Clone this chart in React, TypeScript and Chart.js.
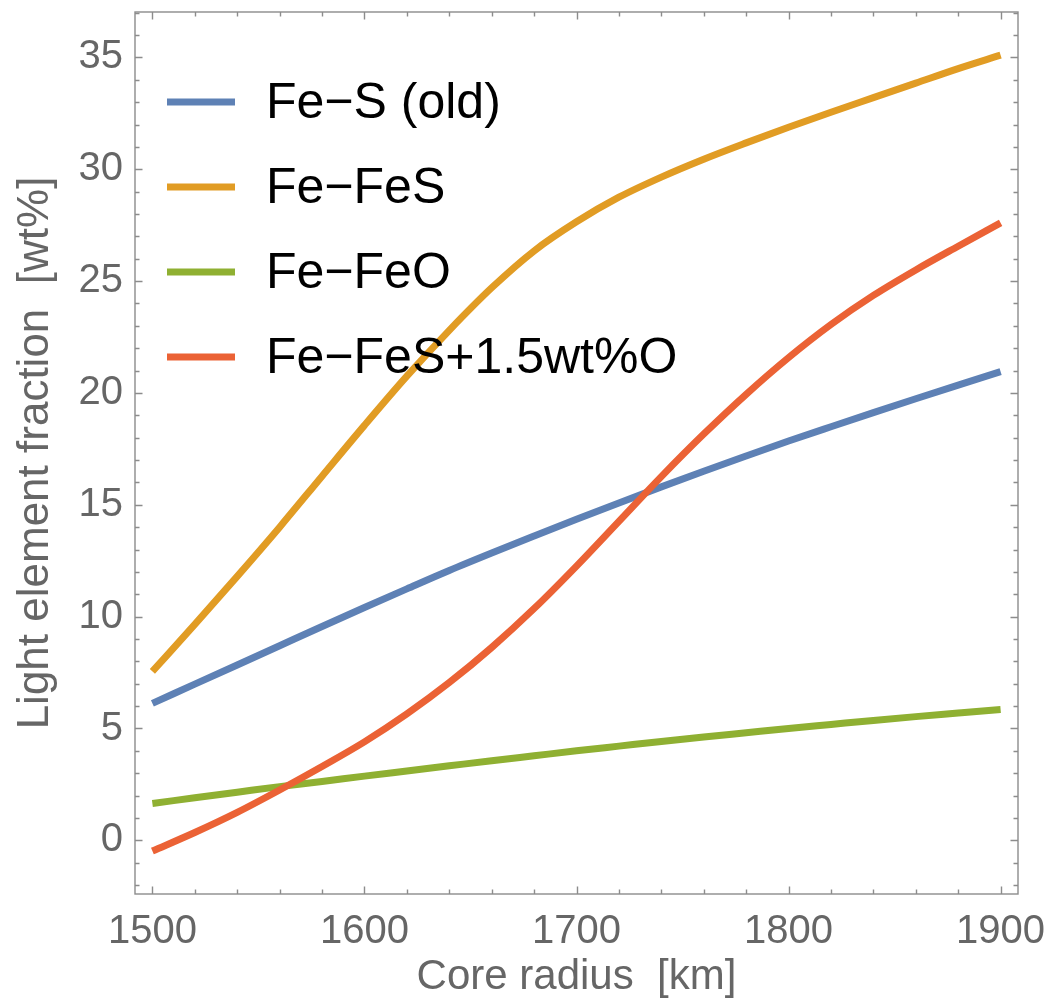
import React, { useEffect, useRef } from "react";
import { Chart, registerables } from "chart.js";

Chart.register(...registerables);

// ---------- data ----------
const radiusKm = [1500, 1520, 1540, 1560, 1580, 1600, 1620, 1640, 1660, 1680, 1700, 1720, 1740, 1760, 1780, 1800, 1820, 1840, 1860, 1880, 1900];
const feSOld = [6.12, 6.98, 7.84, 8.7, 9.56, 10.41, 11.24, 12.06, 12.84, 13.6, 14.35, 15.08, 15.8, 16.5, 17.18, 17.85, 18.49, 19.12, 19.74, 20.35, 20.95];
const feFeS = [7.55, 9.65, 11.8, 14.0, 16.28, 18.55, 20.75, 22.8, 24.7, 26.35, 27.65, 28.75, 29.65, 30.45, 31.18, 31.88, 32.55, 33.2, 33.85, 34.5, 35.1];
const feFeO = [1.65, 1.9, 2.15, 2.4, 2.63, 2.87, 3.1, 3.33, 3.56, 3.78, 4.0, 4.21, 4.42, 4.62, 4.81, 5.0, 5.18, 5.36, 5.53, 5.69, 5.85];
const feFeSO = [-0.48, 0.35, 1.25, 2.25, 3.3, 4.4, 5.65, 7.05, 8.62, 10.36, 12.26, 14.26, 16.26, 18.16, 19.94, 21.58, 23.06, 24.36, 25.5, 26.56, 27.6];

const seriesLabels = ["Fe\u2212S (old)", "Fe\u2212FeS", "Fe\u2212FeO", "Fe\u2212FeS+1.5wt%O"];
const seriesValues = [feSOld, feFeS, feFeO, feFeSO];
const seriesColors = ["#5E81B5", "#E19C24", "#8FB032", "#EB6235"];

const xTickValues = [1500, 1600, 1700, 1800, 1900];
const yTickValues = [0, 5, 10, 15, 20, 25, 30, 35];

const xTitle = "Core radius  [km]";
const yTitle = "Light element fraction  [wt%]";

// ---------- style ----------
const FONT = "'Liberation Sans', Arial, Helvetica, sans-serif";
const GRAY_TEXT = "#666666";
const FRAME = "#8c8c8c";
const X_MINOR = 20;
const X_MAJOR = 100;
const Y_MINOR = 1;
const Y_MAJOR = 5;

const frameTicksPlugin = {
  id: "frameTicks",
  afterDatasetsDraw(chart: any) {
    const { ctx, chartArea, scales } = chart;
    const { left, right, top, bottom } = chartArea;
    const x = scales.x;
    const y = scales.y;
    ctx.save();
    ctx.strokeStyle = FRAME;
    ctx.lineWidth = 1.4;
    ctx.beginPath();
    for (let k = Math.ceil(x.min / X_MINOR); k * X_MINOR <= x.max; k++) {
      const v = k * X_MINOR;
      const px = Math.round(x.getPixelForValue(v)) + 0.5;
      const len = v % X_MAJOR === 0 ? 7.5 : 4.5;
      ctx.moveTo(px, bottom);
      ctx.lineTo(px, bottom - len);
      ctx.moveTo(px, top);
      ctx.lineTo(px, top + len);
    }
    for (let k = Math.ceil(y.min / Y_MINOR); k * Y_MINOR <= y.max; k++) {
      const v = k * Y_MINOR;
      const py = Math.round(y.getPixelForValue(v)) + 0.5;
      const len = v % Y_MAJOR === 0 ? 7.5 : 4.5;
      ctx.moveTo(left, py);
      ctx.lineTo(left + len, py);
      ctx.moveTo(right, py);
      ctx.lineTo(right - len, py);
    }
    ctx.stroke();
    ctx.strokeRect(left, top, right - left, bottom - top);
    ctx.restore();
  },
};

const legendPlugin = {
  id: "mmaLegend",
  afterDraw(chart: any) {
    const { ctx, chartArea } = chart;
    const x0 = chartArea.left + 32;
    const lineLen = 68;
    const textX = chartArea.left + 131;
    const firstLineY = chartArea.top + 90;
    const rowGap = 85;
    ctx.save();
    chart.data.datasets.forEach((ds: any, i: number) => {
      const yLine = firstLineY + i * rowGap;
      ctx.strokeStyle = ds.borderColor;
      ctx.lineWidth = 7;
      ctx.lineCap = "butt";
      ctx.beginPath();
      ctx.moveTo(x0, yLine);
      ctx.lineTo(x0 + lineLen, yLine);
      ctx.stroke();
      ctx.fillStyle = "#000000";
      ctx.font = `50px ${FONT}`;
      ctx.textAlign = "left";
      ctx.textBaseline = "alphabetic";
      ctx.fillText(ds.label, textX, yLine + 16);
    });
    ctx.restore();
  },
};

function zeroPadding(scale: any) {
  scale.paddingLeft = 0;
  scale.paddingRight = 0;
  scale.paddingTop = 0;
  scale.paddingBottom = 0;
}

export default function App() {
  const canvasRef = useRef<HTMLCanvasElement | null>(null);

  useEffect(() => {
    const canvas = canvasRef.current;
    if (!canvas) return;
    const datasets = seriesLabels.map((label, i) => ({
      label,
      data: radiusKm.map((r, j) => ({ x: r, y: seriesValues[i][j] })),
      borderColor: seriesColors[i],
      backgroundColor: seriesColors[i],
      borderWidth: 7,
      pointRadius: 0,
      fill: false,
      cubicInterpolationMode: "monotone" as const,
      borderCapStyle: "butt" as const,
      order: seriesLabels.length - i,
    }));

    const chart = new Chart(canvas, {
      type: "line",
      data: { datasets },
      options: {
        responsive: false,
        animation: false,
        devicePixelRatio: 1,
        layout: { padding: { top: 12, right: 33, left: 0, bottom: 0 } },
        plugins: {
          legend: { display: false },
          tooltip: { enabled: false },
        },
        scales: {
          x: {
            type: "linear",
            min: 1491.8,
            max: 1908.2,
            grid: { display: false, drawTicks: false },
            border: { display: false },
            afterBuildTicks: (scale: any) => {
              scale.ticks = xTickValues.map((value) => ({ value }));
            },
            afterFit: (scale: any) => {
              scale.height = 113;
              zeroPadding(scale);
            },
            ticks: {
              autoSkip: false,
              maxRotation: 0,
              padding: 14,
              color: GRAY_TEXT,
              font: { family: FONT, size: 40 },
              callback: (v: any) => String(v),
            },
            title: {
              display: true,
              text: xTitle,
              color: GRAY_TEXT,
              font: { family: FONT, size: 42 },
              padding: { top: 0, bottom: 4 },
            },
          },
          y: {
            type: "linear",
            min: -2.4,
            max: 37.03,
            grid: { display: false, drawTicks: false },
            border: { display: false },
            afterBuildTicks: (scale: any) => {
              scale.ticks = yTickValues.map((value) => ({ value }));
            },
            afterFit: (scale: any) => {
              scale.width = 135;
              zeroPadding(scale);
            },
            ticks: {
              autoSkip: false,
              padding: 12,
              color: GRAY_TEXT,
              font: { family: FONT, size: 40 },
              callback: (v: any) => String(v),
            },
            title: {
              display: true,
              text: yTitle,
              color: GRAY_TEXT,
              font: { family: FONT, size: 44 },
              padding: { top: 9, bottom: 0 },
            },
          },
        },
      },
      plugins: [frameTicksPlugin, legendPlugin],
    });
    return () => chart.destroy();
  }, []);

  return (
    <div style={{ position: "fixed", left: 0, top: 0, width: 1051, height: 1007, background: "#ffffff" }}>
      <canvas ref={canvasRef} width={1051} height={1007} style={{ display: "block" }} />
    </div>
  );
}
